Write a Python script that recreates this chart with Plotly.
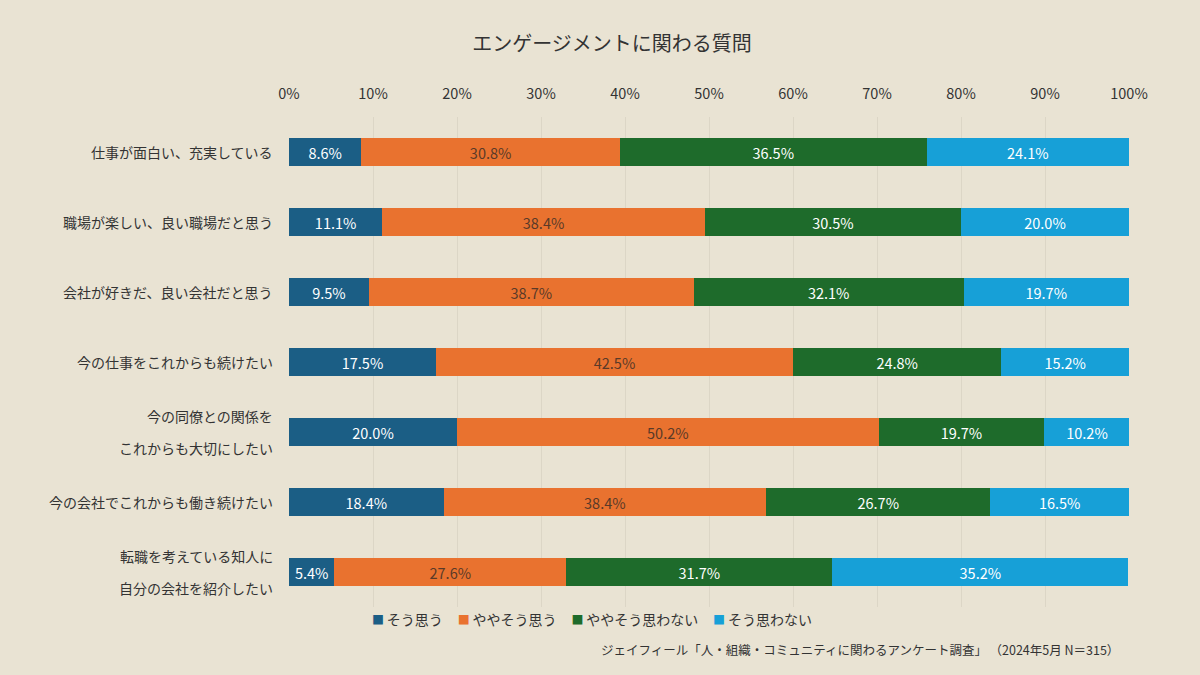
"""
Engagement survey stacked bar chart (100% horizontal).
"""

import plotly.graph_objects as go

FONT = "Noto Sans CJK JP"
BG = "#e9e3d3"

categories = [
    "仕事が面白い、充実している",
    "職場が楽しい、良い職場だと思う",
    "会社が好きだ、良い会社だと思う",
    "今の仕事をこれからも続けたい",
    "今の同僚との関係を\nこれからも大切にしたい",
    "今の会社でこれからも働き続けたい",
    "転職を考えている知人に\n自分の会社を紹介したい",
]

series_names = ["そう思う", "ややそう思う", "ややそう思わない", "そう思わない"]

agree = [8.6, 11.1, 9.5, 17.5, 20.0, 18.4, 5.4]
somewhat_agree = [30.8, 38.4, 38.7, 42.5, 50.2, 38.4, 27.6]
somewhat_disagree = [36.5, 30.5, 32.1, 24.8, 19.7, 26.7, 31.7]
disagree = [24.1, 20.0, 19.7, 15.2, 10.2, 16.5, 35.2]

tick_vals = [0, 10, 20, 30, 40, 50, 60, 70, 80, 90, 100]
tick_text = [f"{v}%" for v in tick_vals]

colors = ["#1b5e85", "#e9722f", "#1e6b2b", "#17a0d7"]
text_colors = ["white", "#5a3a28", "white", "white"]

fig = go.Figure()

for name, values, color, tcolor in zip(
    series_names,
    [agree, somewhat_agree, somewhat_disagree, disagree],
    colors,
    text_colors,
):
    fig.add_trace(
        go.Bar(
            y=list(range(len(categories))),
            x=values,
            name=name,
            orientation="h",
            marker=dict(color=color, line_width=0),
            width=0.4,
            text=[f"{v:.1f}%" for v in values],
            textposition="inside",
            insidetextanchor="middle",
            textangle=0,
            textfont=dict(family=FONT, size=14.5, color=tcolor),
            hoverinfo="skip",
        )
    )

# category labels as annotations so two-line labels get wide line spacing
for i, label in enumerate(categories):
    lines = label.split("\n")
    n = len(lines)
    for j, line in enumerate(lines):
        fig.add_annotation(
            x=0,
            xref="paper",
            y=i,
            yref="y",
            text=line,
            showarrow=False,
            xanchor="right",
            yanchor="middle",
            xshift=-14,
            yshift=((n - 1) / 2 - j) * 32,
            font=dict(family=FONT, size=14, color="#333333"),
        )

# compact legend (plotly's own legend leaves wider gaps than the reference)
legend_items = [
    f"<span style='color:{c};font-size:12px'>■</span>\u2009{name}"
    for name, c in zip(series_names, colors)
]
fig.add_annotation(
    x=0.097,
    xref="paper",
    y=-0.025,
    yref="paper",
    text="\u3000\u200a".join(legend_items),
    showarrow=False,
    xanchor="left",
    yanchor="middle",
    font=dict(family=FONT, size=14, color="#333333"),
)

fig.add_annotation(
    x=0.99,
    xref="paper",
    y=-0.086,
    yref="paper",
    text="ジェイフィール「人・組織・コミュニティに関わるアンケート調査」\u2009（2024年5月 N＝315）",
    showarrow=False,
    xanchor="right",
    yanchor="middle",
    font=dict(family=FONT, size=12.5, color="#333333"),
)

fig.update_layout(
    title=dict(
        text="エンゲージメントに関わる質問",
        x=0.51,
        xanchor="center",
        y=0.935,
        yanchor="middle",
        font=dict(family=FONT, size=20, color="#333333"),
    ),
    barmode="stack",
    width=1200,
    height=675,
    margin=dict(l=289, r=71, t=117, b=68),
    paper_bgcolor=BG,
    plot_bgcolor=BG,
    font=dict(family=FONT, size=14, color="#333333"),
    showlegend=False,
    xaxis=dict(
        side="top",
        range=[0, 100],
        tickvals=tick_vals,
        ticktext=tick_text,
        showgrid=True,
        gridcolor="#dcd6c6",
        gridwidth=1,
        zeroline=False,
        showline=False,
        ticks="",
        ticklabelstandoff=14,
        tickfont=dict(family=FONT, size=14.5, color="#333333"),
        fixedrange=True,
    ),
    yaxis=dict(
        range=[6.5, -0.5],
        showticklabels=False,
        showgrid=False,
        zeroline=False,
        ticks="",
        fixedrange=True,
    ),
)

fig.write_html(
    "out.html",
    config={"displayModeBar": False},
    post_script="document.body.style.margin='0';",
)
